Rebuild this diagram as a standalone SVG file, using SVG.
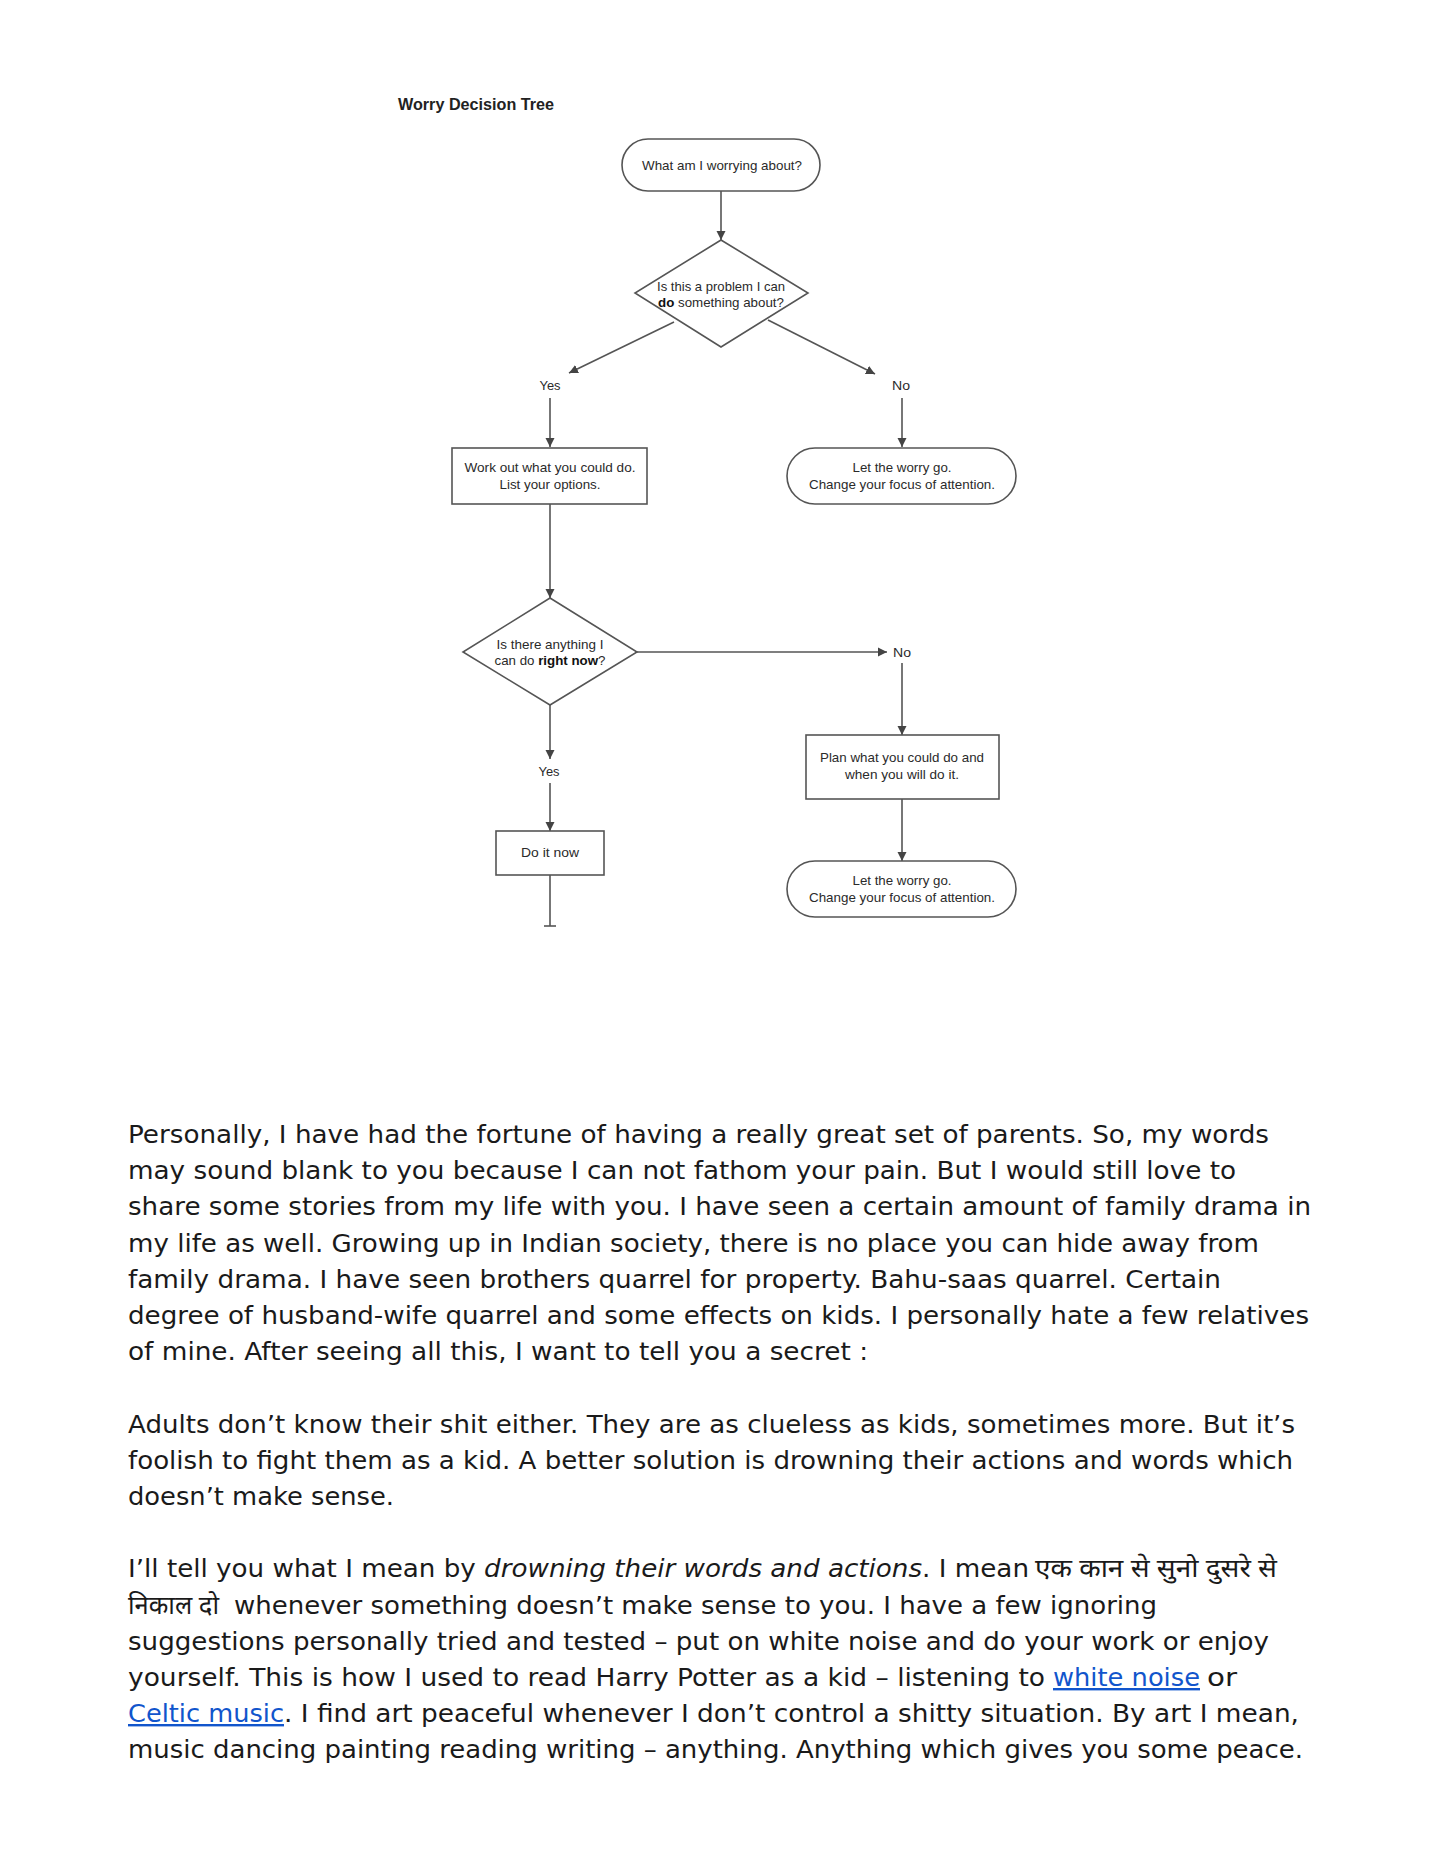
<svg xmlns="http://www.w3.org/2000/svg" width="1440" height="1864" viewBox="0 0 1440 1864">
<style>
.bg{fill:#ffffff}
.shape{fill:#ffffff;stroke:#555555;stroke-width:1.6}
.conn{stroke:#555555;stroke-width:1.6;fill:none}
.lbl{font-family:"Liberation Sans",Arial,sans-serif;font-size:13.5px;fill:#2a2a2a;text-anchor:middle}
.title{font-family:"Liberation Sans",Arial,sans-serif;font-size:16px;font-weight:bold;fill:#222222}
.b{font-weight:bold;fill:#111111}
.body{font-family:"DejaVu Sans",Verdana,sans-serif;font-size:24px;fill:#1a1a1a}
.hi{font-family:"Noto Sans","Noto Sans Devanagari","Lohit Devanagari","FreeSans",sans-serif;font-size:25px;fill:#1a1a1a}
.it{font-style:italic}
.link{fill:#1155cc;text-decoration:underline}
</style>
<defs>
<marker id="arr" markerUnits="userSpaceOnUse" markerWidth="10" markerHeight="10" refX="9" refY="5" orient="auto">
<path d="M0,0.5 L9,5 L0,9.5 z" fill="#444444"/>
</marker>
</defs>
<rect class="bg" x="0" y="0" width="1440" height="1864"/>

<text class="title" x="398" y="110" textLength="156" lengthAdjust="spacingAndGlyphs">Worry Decision Tree</text>

<g id="connectors">
<line class="conn" x1="721" y1="191" x2="721" y2="240" marker-end="url(#arr)"/>
<line class="conn" x1="674" y1="322" x2="569" y2="373" marker-end="url(#arr)"/>
<line class="conn" x1="768" y1="320" x2="875" y2="374" marker-end="url(#arr)"/>
<line class="conn" x1="550" y1="398" x2="550" y2="447" marker-end="url(#arr)"/>
<line class="conn" x1="902" y1="398" x2="902" y2="447" marker-end="url(#arr)"/>
<line class="conn" x1="550" y1="504" x2="550" y2="598" marker-end="url(#arr)"/>
<line class="conn" x1="637" y1="652" x2="887" y2="652" marker-end="url(#arr)"/>
<line class="conn" x1="902" y1="663" x2="902" y2="735" marker-end="url(#arr)"/>
<line class="conn" x1="902" y1="799" x2="902" y2="861" marker-end="url(#arr)"/>
<line class="conn" x1="550" y1="705" x2="550" y2="759" marker-end="url(#arr)"/>
<line class="conn" x1="550" y1="783" x2="550" y2="831" marker-end="url(#arr)"/>
<line class="conn" x1="550" y1="875" x2="550" y2="926"/>
<line class="conn" x1="544" y1="926" x2="556" y2="926"/>
<text class="lbl" x="550" y="390" textLength="21" lengthAdjust="spacingAndGlyphs">Yes</text>
<text class="lbl" x="901" y="390" textLength="18" lengthAdjust="spacingAndGlyphs">No</text>
<text class="lbl" x="902" y="657" textLength="18" lengthAdjust="spacingAndGlyphs">No</text>
<text class="lbl" x="549" y="776" textLength="21" lengthAdjust="spacingAndGlyphs">Yes</text>
</g>

<g id="start">
<rect class="shape" x="622" y="139" width="198" height="52" rx="26"/>
<text class="lbl" x="722" y="170" textLength="160" lengthAdjust="spacingAndGlyphs">What am I worrying about?</text>
</g>

<g id="decision1">
<polygon class="shape" points="721,240 808,293 721,347 635,293"/>
<text class="lbl" x="721" y="291" textLength="128" lengthAdjust="spacingAndGlyphs">Is this a problem I can</text>
<text class="lbl" x="721" y="307" textLength="126" lengthAdjust="spacingAndGlyphs"><tspan class="b">do</tspan> something about?</text>
</g>

<g id="workout">
<rect class="shape" x="452" y="448" width="195" height="56"/>
<text class="lbl" x="550" y="472" textLength="171" lengthAdjust="spacingAndGlyphs">Work out what you could do.</text>
<text class="lbl" x="550" y="489" textLength="101" lengthAdjust="spacingAndGlyphs">List your options.</text>
</g>

<g id="letgo1">
<rect class="shape" x="787" y="448" width="229" height="56" rx="28"/>
<text class="lbl" x="902" y="472" textLength="99" lengthAdjust="spacingAndGlyphs">Let the worry go.</text>
<text class="lbl" x="902" y="489" textLength="186" lengthAdjust="spacingAndGlyphs">Change your focus of attention.</text>
</g>

<g id="decision2">
<polygon class="shape" points="550,598 637,652 550,705 463,652"/>
<text class="lbl" x="550" y="649" textLength="107" lengthAdjust="spacingAndGlyphs">Is there anything I</text>
<text class="lbl" x="550" y="665" textLength="111" lengthAdjust="spacingAndGlyphs">can do <tspan class="b">right now</tspan>?</text>
</g>

<g id="plan">
<rect class="shape" x="806" y="735" width="193" height="64"/>
<text class="lbl" x="902" y="762" textLength="164" lengthAdjust="spacingAndGlyphs">Plan what you could do and</text>
<text class="lbl" x="902" y="779" textLength="114" lengthAdjust="spacingAndGlyphs">when you will do it.</text>
</g>

<g id="letgo2">
<rect class="shape" x="787" y="861" width="229" height="56" rx="28"/>
<text class="lbl" x="902" y="885" textLength="99" lengthAdjust="spacingAndGlyphs">Let the worry go.</text>
<text class="lbl" x="902" y="902" textLength="186" lengthAdjust="spacingAndGlyphs">Change your focus of attention.</text>
</g>

<g id="doitnow">
<rect class="shape" x="496" y="831" width="108" height="44"/>
<text class="lbl" x="550" y="857" textLength="58" lengthAdjust="spacingAndGlyphs">Do it now</text>
</g>

<g id="paragraph1">
<text class="body" x="128" y="1143" textLength="1141" lengthAdjust="spacingAndGlyphs">Personally, I have had the fortune of having a really great set of parents. So, my words</text>
<text class="body" x="128" y="1179" textLength="1108" lengthAdjust="spacingAndGlyphs">may sound blank to you because I can not fathom your pain. But I would still love to</text>
<text class="body" x="128" y="1215" textLength="1183" lengthAdjust="spacingAndGlyphs">share some stories from my life with you. I have seen a certain amount of family drama in</text>
<text class="body" x="128" y="1252" textLength="1131" lengthAdjust="spacingAndGlyphs">my life as well. Growing up in Indian society, there is no place you can hide away from</text>
<text class="body" x="128" y="1288" textLength="1093" lengthAdjust="spacingAndGlyphs">family drama. I have seen brothers quarrel for property. Bahu-saas quarrel. Certain</text>
<text class="body" x="128" y="1324" textLength="1181" lengthAdjust="spacingAndGlyphs">degree of husband-wife quarrel and some effects on kids. I personally hate a few relatives</text>
<text class="body" x="128" y="1360" textLength="740" lengthAdjust="spacingAndGlyphs">of mine. After seeing all this, I want to tell you a secret :</text>
</g>

<g id="paragraph2">
<text class="body" x="128" y="1433" textLength="1167" lengthAdjust="spacingAndGlyphs">Adults don’t know their shit either. They are as clueless as kids, sometimes more. But it’s</text>
<text class="body" x="128" y="1469" textLength="1165" lengthAdjust="spacingAndGlyphs">foolish to fight them as a kid. A better solution is drowning their actions and words which</text>
<text class="body" x="128" y="1505" textLength="266" lengthAdjust="spacingAndGlyphs">doesn’t make sense.</text>
</g>

<g id="paragraph3">
<text class="body" x="128" y="1577" textLength="901" lengthAdjust="spacingAndGlyphs">I’ll tell you what I mean by <tspan class="it">drowning their words and actions</tspan>. I mean</text>
<text class="hi" x="1035" y="1577" textLength="242" lengthAdjust="spacingAndGlyphs">एक कान से सुनो दुसरे से</text>
<text class="hi" x="128" y="1614" textLength="91" lengthAdjust="spacingAndGlyphs">निकाल दो</text>
<text class="body" x="234" y="1614" textLength="923" lengthAdjust="spacingAndGlyphs">whenever something doesn’t make sense to you. I have a few ignoring</text>
<text class="body" x="128" y="1650" textLength="1141" lengthAdjust="spacingAndGlyphs">suggestions personally tried and tested – put on white noise and do your work or enjoy</text>
<text class="body" x="128" y="1686" textLength="917" lengthAdjust="spacingAndGlyphs">yourself. This is how I used to read Harry Potter as a kid – listening to</text>
<text class="body link" x="1053" y="1686" textLength="147" lengthAdjust="spacingAndGlyphs">white noise</text>
<text class="body" x="1207" y="1686" textLength="30" lengthAdjust="spacingAndGlyphs">or</text>
<text class="body link" x="128" y="1722" textLength="156" lengthAdjust="spacingAndGlyphs">Celtic music</text>
<text class="body" x="284" y="1722" textLength="1015" lengthAdjust="spacingAndGlyphs">. I find art peaceful whenever I don’t control a shitty situation. By art I mean,</text>
<text class="body" x="128" y="1758" textLength="1175" lengthAdjust="spacingAndGlyphs">music dancing painting reading writing – anything. Anything which gives you some peace.</text>
</g>
</svg>
